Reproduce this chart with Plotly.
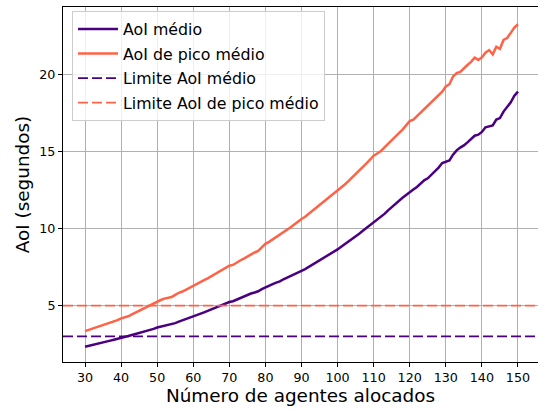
import plotly.graph_objects as go

agents = list(range(30, 151))

aoi_medio = [
    2.33, 2.38, 2.44, 2.49, 2.55, 2.61, 2.66, 2.73, 2.79, 2.84,
    2.93, 2.98, 3.03, 3.10, 3.16, 3.22, 3.29, 3.34, 3.42, 3.49,
    3.58, 3.64, 3.70, 3.74, 3.78, 3.87, 3.96, 4.04, 4.13, 4.22,
    4.32, 4.40, 4.48, 4.57, 4.66, 4.76, 4.86, 4.96, 5.04, 5.11,
    5.24, 5.29, 5.40, 5.48, 5.59, 5.68, 5.79, 5.86, 5.94, 6.08,
    6.20, 6.29, 6.40, 6.50, 6.58, 6.72, 6.84, 6.93, 7.04, 7.19,
    7.27, 7.38, 7.52, 7.66, 7.78, 7.93, 8.07, 8.20, 8.35, 8.50,
    8.66, 8.84, 9.00, 9.17, 9.34, 9.48, 9.68, 9.87, 10.05, 10.24,
    10.45, 10.62, 10.78, 10.97, 11.20, 11.42, 11.60, 11.80, 12.02, 12.20,
    12.40, 12.55, 12.72, 12.92, 13.15, 13.28, 13.50, 13.75, 13.98, 14.28,
    14.38, 14.45, 14.82, 15.10, 15.28, 15.42, 15.62, 15.82, 16.05, 16.12,
    16.30, 16.60, 16.68, 16.72, 17.10, 17.20, 17.62, 17.92, 18.22, 18.65,
    18.92,
]

aoi_pico = [
    3.35, 3.43, 3.50, 3.57, 3.65, 3.73, 3.80, 3.93, 3.99, 4.06,
    4.18, 4.25, 4.31, 4.44, 4.56, 4.68, 4.80, 4.92, 5.03, 5.13,
    5.26, 5.37, 5.46, 5.51, 5.56, 5.70, 5.84, 5.92, 6.05, 6.17,
    6.32, 6.44, 6.54, 6.66, 6.78, 6.92, 7.04, 7.17, 7.30, 7.44,
    7.60, 7.65, 7.82, 7.94, 8.06, 8.20, 8.34, 8.46, 8.56, 8.80,
    9.02, 9.15, 9.30, 9.46, 9.60, 9.78, 9.95, 10.10, 10.28, 10.47,
    10.64, 10.78, 10.97, 11.16, 11.33, 11.52, 11.72, 11.90, 12.08, 12.26,
    12.45, 12.70, 12.88, 13.10, 13.32, 13.55, 13.82, 14.04, 14.26, 14.50,
    14.75, 14.90, 15.05, 15.30, 15.52, 15.72, 15.98, 16.22, 16.45, 16.75,
    17.00, 17.10, 17.32, 17.55, 17.80, 18.02, 18.20, 18.45, 18.68, 18.92,
    19.25, 19.40, 19.90, 20.12, 20.20, 20.45, 20.65, 20.85, 21.13, 20.98,
    21.15, 21.45, 21.62, 21.34, 21.84, 21.70, 22.28, 22.40, 22.72, 23.08,
    23.30,
]

limite_medio = 3
limite_pico = 5

x_ticks = list(range(30, 151, 10))
y_ticks = [5, 10, 15, 20]

PURPLE = "#4B0082"
ORANGE = "#FF6347"
FONT = "DejaVu Sans"
DASH = "10px,4px"

fig = go.Figure()
fig.add_trace(go.Scatter(x=agents, y=aoi_medio, mode="lines", name="AoI médio",
                         legendgroup="a", line=dict(color=PURPLE, width=2.5)))
fig.add_trace(go.Scatter(x=agents, y=aoi_pico, mode="lines", name="AoI de pico médio",
                         legendgroup="b", line=dict(color=ORANGE, width=2.5)))
fig.add_trace(go.Scatter(x=[None], y=[None], mode="lines", name="Limite AoI médio",
                         legendgroup="c", line=dict(color=PURPLE, width=1.8, dash=DASH)))
fig.add_trace(go.Scatter(x=[None], y=[None], mode="lines", name="Limite AoI de pico médio",
                         legendgroup="d", line=dict(color=ORANGE, width=1.8, dash=DASH)))

fig.add_hline(y=limite_medio, line=dict(color=PURPLE, width=1.8, dash=DASH))
fig.add_hline(y=limite_pico, line=dict(color=ORANGE, width=1.8, dash=DASH))

fig.update_layout(
    width=538, height=412,
    margin=dict(l=63, r=0, t=7, b=50),
    paper_bgcolor="white", plot_bgcolor="white",
    font=dict(family=FONT, color="black"),
    legend=dict(x=0.019, y=0.988, xanchor="left", yanchor="top",
                bgcolor="rgba(255,255,255,0.8)", bordercolor="#cccccc", borderwidth=1,
                tracegroupgap=1, traceorder="grouped", itemwidth=40,
                font=dict(size=15.8, family=FONT)),
    showlegend=True,
)
fig.update_xaxes(
    range=[23.9, 155.55], tickvals=x_ticks, ticks="outside", ticklen=4, tickcolor="black",
    showline=True, linecolor="black", linewidth=1, mirror=True, automargin=False,
    showgrid=True, gridcolor="#b0b0b0", gridwidth=1, zeroline=False,
    tickfont=dict(size=12.7, family=FONT),
    title=dict(text="Número de agentes alocados", font=dict(size=18.4, family=FONT), standoff=4),
)
fig.update_yaxes(
    range=[1.34, 24.42], tickvals=y_ticks, ticks="outside", ticklen=4, tickcolor="black",
    showline=True, linecolor="black", linewidth=1, automargin=False,
    showgrid=True, gridcolor="#b0b0b0", gridwidth=1, zeroline=False,
    tickfont=dict(size=12.7, family=FONT),
    title=dict(text="AoI (segundos)", font=dict(size=18.4, family=FONT), standoff=4),
)

fig.write_html("out.html", config={"displayModeBar": False},
               post_script="document.body.style.margin='0';")
